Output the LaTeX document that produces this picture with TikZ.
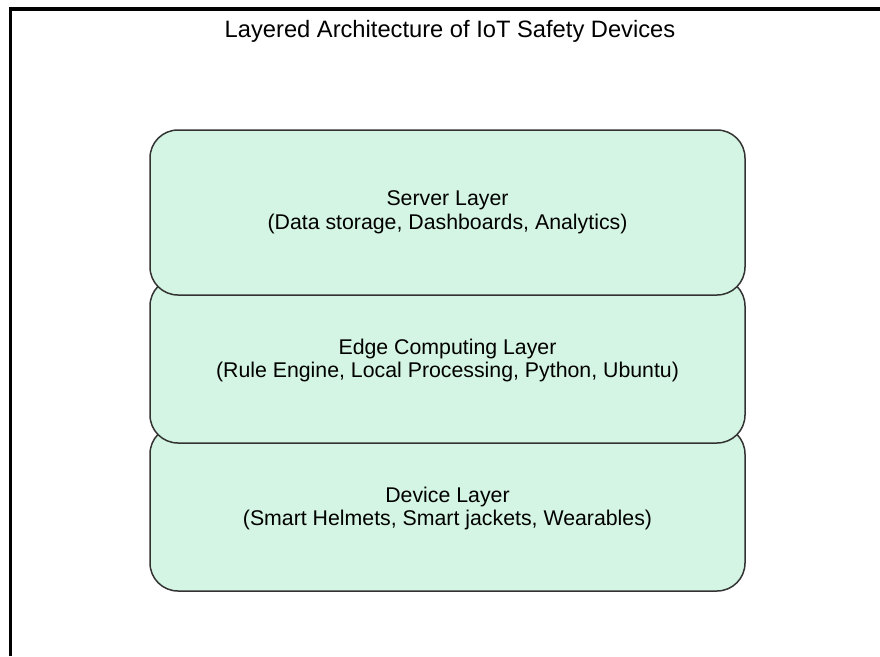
\documentclass[tikz,border=0pt]{standalone}
\usepackage{fontspec}
\setmainfont{Liberation Sans}
\usepackage{tikz}
\usetikzlibrary{positioning}
\definecolor{layergreen}{RGB}{212,245,227}
\definecolor{layerborder}{RGB}{51,51,51}
\tikzset{
    layer/.style={draw=layerborder, line width=1.5pt, fill=layergreen, rounded corners=28pt,
        minimum width=595pt, minimum height=165pt, outer sep=0pt, align=center,
        font=\fontsize{21.3}{23.5}\selectfont},
    heading/.style={font=\fontsize{23.7}{28}\selectfont, anchor=base},
    frame/.style={line width=3.5pt, black}
}

\begin{document}
\begin{tikzpicture}[x=1pt, y=-1pt, node distance=1cm]
    \useasboundingbox (0,0) rectangle (880,656);
    \draw[frame] (10.5,656) -- (10.5,9) -- (880,9);
    \node[heading] (title) at (450,37) {Layered Architecture of IoT Safety Devices};

    % Layers from the bottom up, so each one sits over the next
    \node[layer] (device) at (447.5,508.5) {Device Layer\\(Smart Helmets, Smart jackets, Wearables)};
    \node[layer, above=-17pt of device] (edge) {Edge Computing Layer\\(Rule Engine, Local Processing, Python, Ubuntu)};
    \node[layer, above=-17pt of edge] (server) {Server Layer\\(Data storage, Dashboards, Analytics)};
\end{tikzpicture}
\end{document}
